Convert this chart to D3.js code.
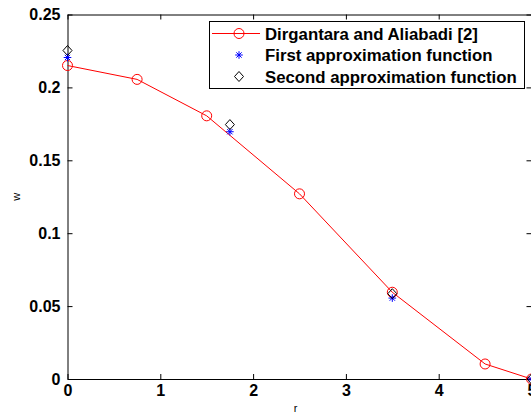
<!DOCTYPE html>
<html lang="en">
<head>
    <meta charset="utf-8">
    <title>w vs r</title>
    <script type="text/javascript" src="https://d3js.org/d3.v7.min.js"></script>
    <style>
        body { margin: 0; background: white; }
        svg { display: block; }
        .tick text { font-family: "Liberation Sans", Arial, sans-serif; font-weight: bold; font-size: 16px; fill: black; }
        .legend text { font-family: "Liberation Sans", Arial, sans-serif; font-weight: bold; font-size: 16.8px; }
    </style>
</head>
<body>
    <div id="chart"></div>
    <script type="text/javascript">
        const width = 531;
        const height = 416;
        const marginLeft = 67.5, plotRight = 531.5, plotTop = 14.5, plotBottom = 379;

        // data
        const refR = [0, 0.75, 1.5, 2.5, 3.5, 4.5, 5];
        const refW = [0.215, 0.2055, 0.1805, 0.127, 0.0595, 0.0103, 0];
        const firstR = [0, 1.75, 3.5, 5];
        const firstW = [0.2205, 0.1696, 0.0555, 0];
        const secondR = [0, 1.75, 3.5, 5];
        const secondW = [0.2253, 0.1745, 0.0585, 0];
        const xTicks = [0, 1, 2, 3, 4, 5];
        const yTicks = [0, 0.05, 0.1, 0.15, 0.2, 0.25];
        const legendLabels = ["Dirgantara and Aliabadi [2]", "First approximation function", "Second approximation function"];

        const svg = d3.select("#chart")
            .append("svg")
            .attr("width", width)
            .attr("height", height);

        const x = d3.scaleLinear().domain([0, 5]).range([marginLeft, plotRight]);
        const y = d3.scaleLinear().domain([0, 0.25]).range([plotBottom, plotTop]);

        // axes, ticks inward on all four sides
        svg.append("g")
            .attr("transform", `translate(0,${plotBottom})`)
            .call(d3.axisBottom(x).tickValues(xTicks).tickFormat(d3.format("d")).tickSizeInner(-5).tickSizeOuter(0).tickPadding(6));
        svg.append("g")
            .attr("transform", `translate(0,${plotTop})`)
            .call(d3.axisTop(x).tickValues(xTicks).tickFormat("").tickSizeInner(-5).tickSizeOuter(0));
        svg.append("g")
            .attr("transform", `translate(${marginLeft},0)`)
            .call(d3.axisLeft(y).tickValues(yTicks).tickFormat(d => d === 0 ? "0" : String(+d.toFixed(2))).tickSizeInner(-5).tickSizeOuter(0).tickPadding(7));
        svg.append("g")
            .attr("transform", `translate(${plotRight},0)`)
            .call(d3.axisRight(y).tickValues(yTicks).tickFormat("").tickSizeInner(-5).tickSizeOuter(0));

        // axis titles
        svg.append("text")
            .attr("x", (marginLeft + plotRight) / 2 - 4)
            .attr("y", 412)
            .attr("text-anchor", "middle")
            .style("font-family", "Liberation Sans, Arial, sans-serif")
            .style("font-size", "11px")
            .text("r");
        svg.append("text")
            .attr("transform", `translate(20,${(plotTop + plotBottom) / 2}) rotate(-90)`)
            .attr("text-anchor", "middle")
            .style("font-family", "Liberation Sans, Arial, sans-serif")
            .style("font-size", "11px")
            .text("w");

        // marker paths
        const star = s => `M${-s},0L${s},0M0,${-s}L0,${s}M${-s * 0.7},${-s * 0.7}L${s * 0.7},${s * 0.7}M${-s * 0.7},${s * 0.7}L${s * 0.7},${-s * 0.7}`;
        const diamond = s => `M0,${-s}L${s * 0.9},0L0,${s}L${-s * 0.9},0Z`;

        const ref = refR.map((r, i) => [r, refW[i]]);
        const first = firstR.map((r, i) => [r, firstW[i]]);
        const second = secondR.map((r, i) => [r, secondW[i]]);

        svg.append("path")
            .datum(ref)
            .attr("fill", "none")
            .attr("stroke", "red")
            .attr("stroke-width", 1)
            .attr("d", d3.line().x(d => x(d[0])).y(d => y(d[1])));

        svg.append("g").selectAll("circle")
            .data(ref)
            .enter()
            .append("circle")
            .attr("cx", d => x(d[0]))
            .attr("cy", d => y(d[1]))
            .attr("r", 5)
            .attr("fill", "none")
            .attr("stroke", "red");

        svg.append("g").selectAll("path")
            .data(first)
            .enter()
            .append("path")
            .attr("transform", d => `translate(${x(d[0])},${y(d[1])})`)
            .attr("d", star(3.8))
            .attr("stroke", "blue")
            .attr("fill", "none");

        svg.append("g").selectAll("path")
            .data(second)
            .enter()
            .append("path")
            .attr("transform", d => `translate(${x(d[0])},${y(d[1])})`)
            .attr("d", diamond(5))
            .attr("stroke", "black")
            .attr("fill", "none");

        // legend
        const legend = svg.append("g").attr("class", "legend");
        legend.append("rect")
            .attr("x", 209.5).attr("y", 21.5)
            .attr("width", 315).attr("height", 67)
            .attr("fill", "white").attr("stroke", "black");
        const rowY = [33.5, 55, 76.5];
        legend.append("line")
            .attr("x1", 212).attr("x2", 260).attr("y1", rowY[0]).attr("y2", rowY[0])
            .attr("stroke", "red");
        legend.append("circle")
            .attr("cx", 239).attr("cy", rowY[0]).attr("r", 5)
            .attr("fill", "none").attr("stroke", "red");
        legend.append("path")
            .attr("transform", `translate(239,${rowY[1]})`)
            .attr("d", star(3.8)).attr("stroke", "blue").attr("fill", "none");
        legend.append("path")
            .attr("transform", `translate(239,${rowY[2]})`)
            .attr("d", diamond(5)).attr("stroke", "black").attr("fill", "none");
        legend.selectAll("text.lbl")
            .data(legendLabels)
            .enter()
            .append("text")
            .attr("class", "lbl")
            .attr("x", 265)
            .attr("y", (d, i) => rowY[i] + 6)
            .text(d => d);
    </script>
</body>
</html>
